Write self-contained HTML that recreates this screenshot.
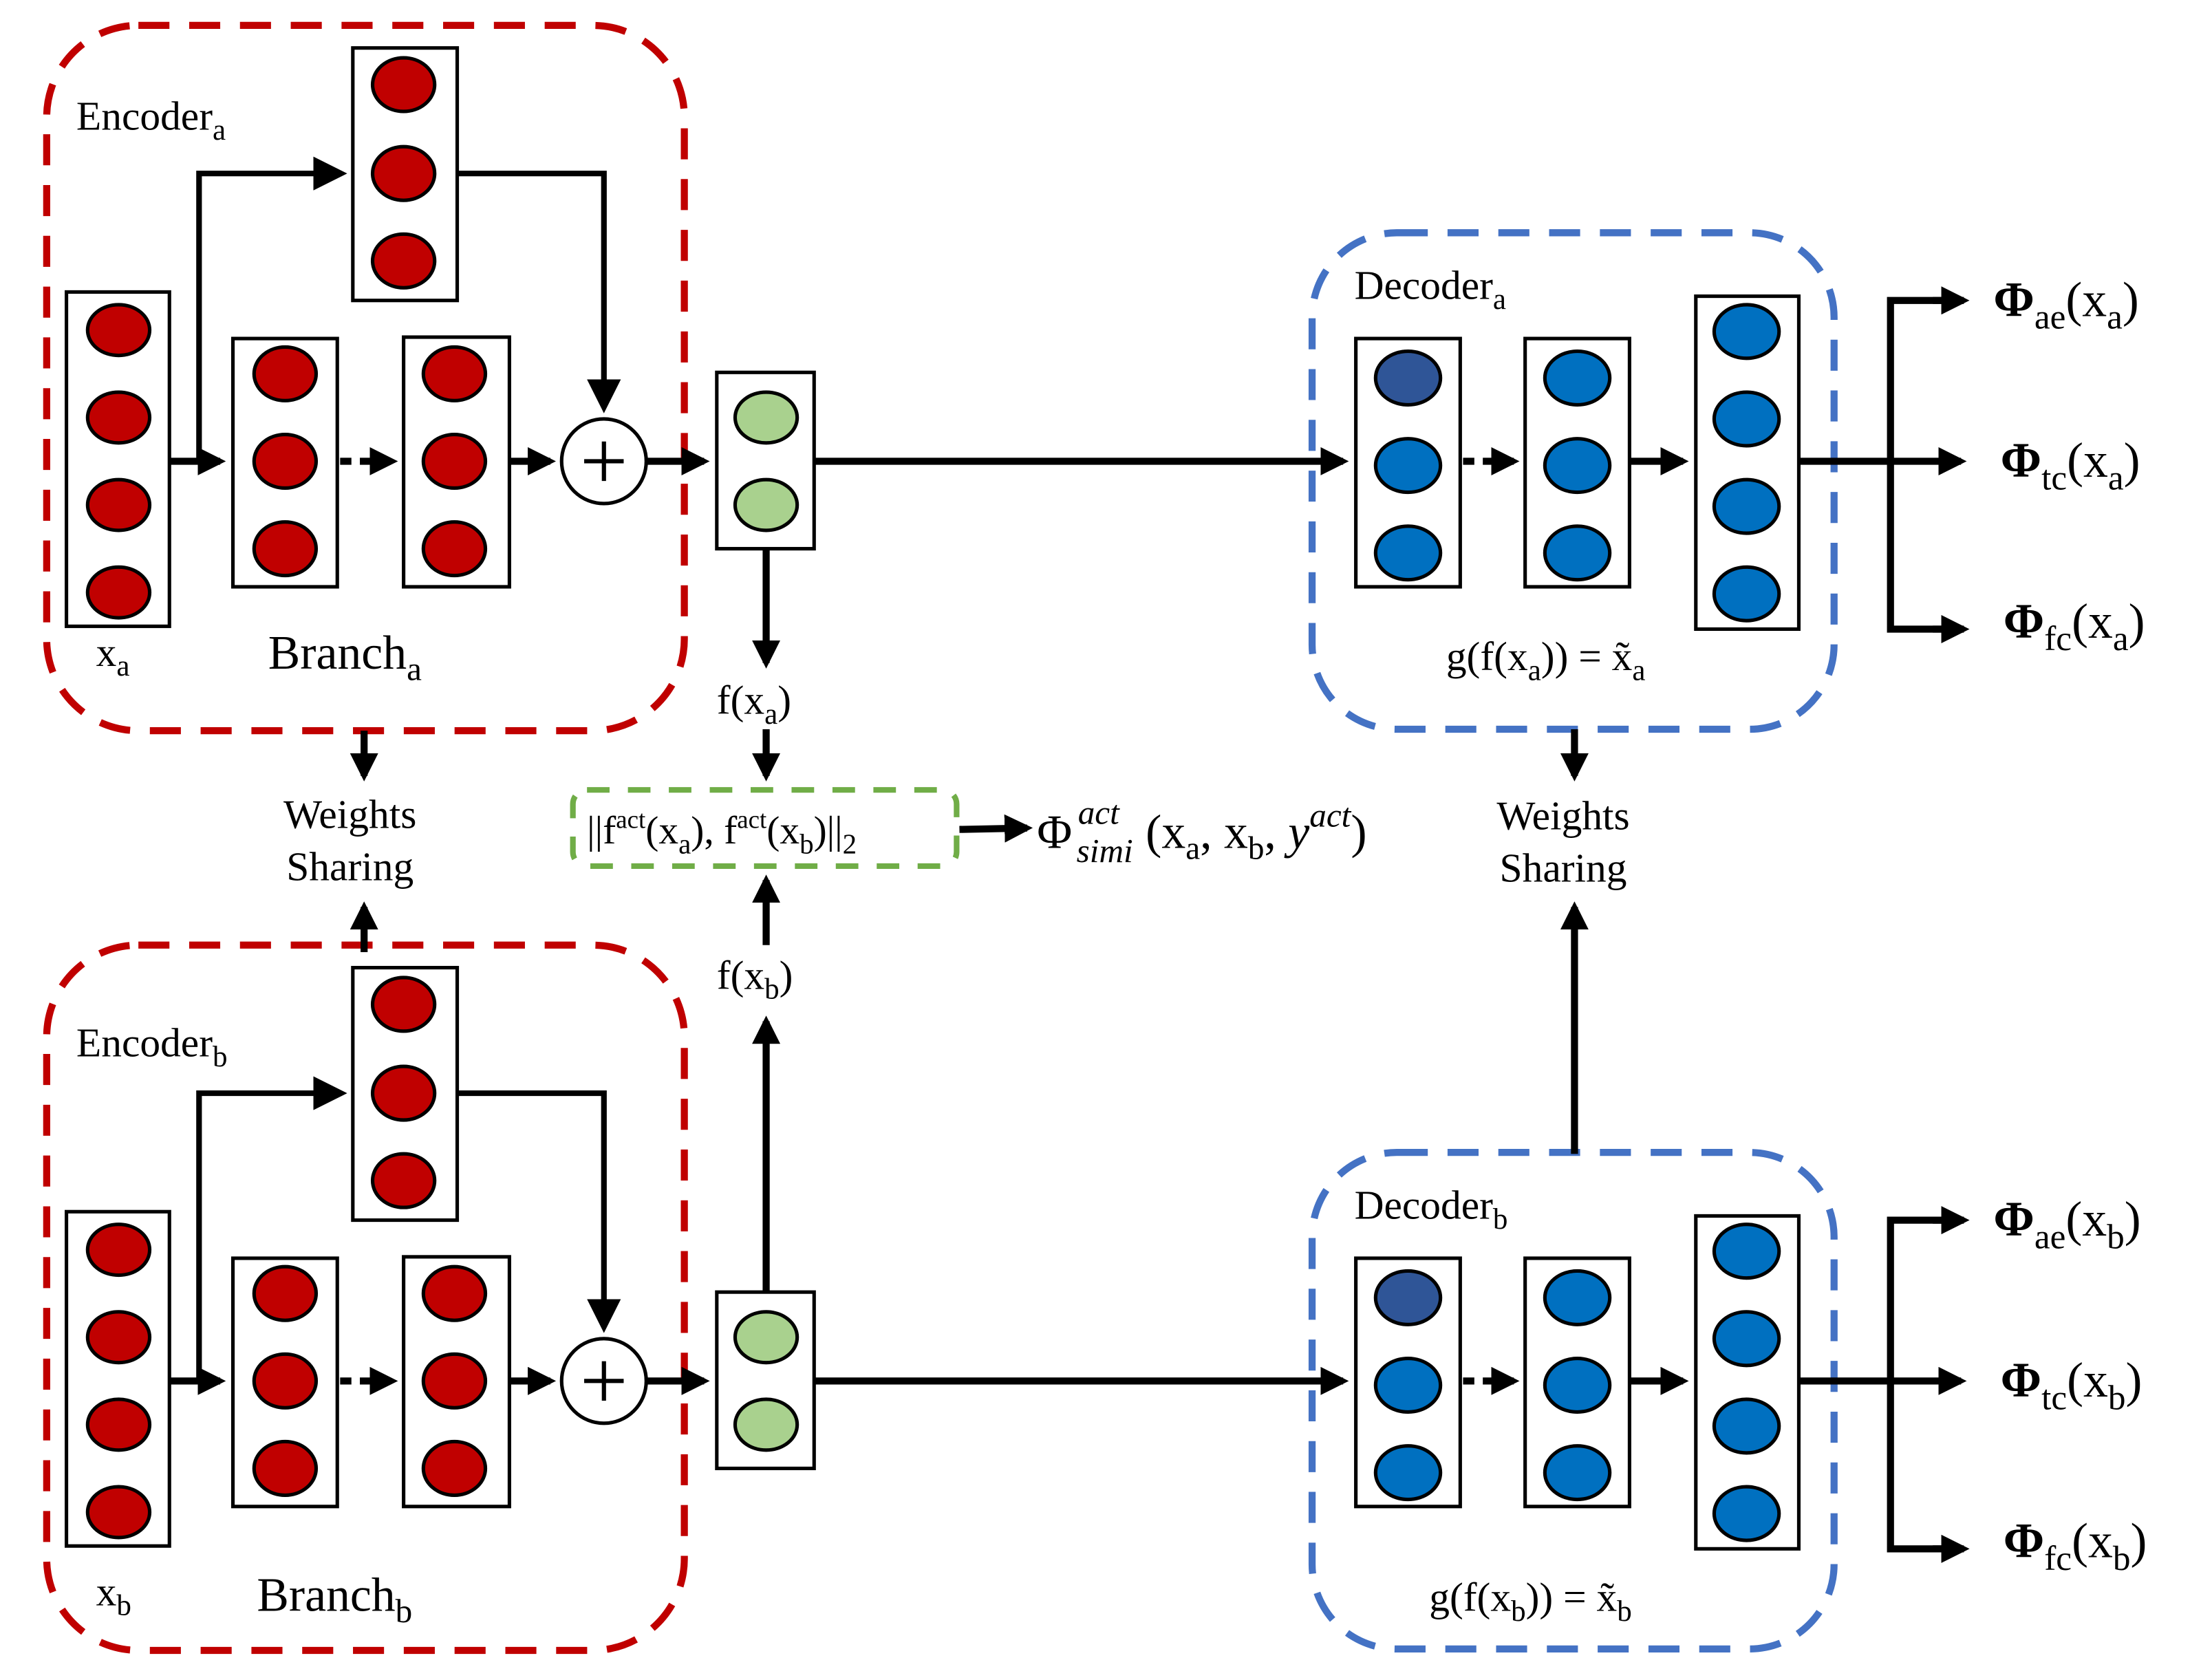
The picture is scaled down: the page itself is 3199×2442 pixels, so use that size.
<!DOCTYPE html>
<html><head><meta charset="utf-8"><style>
html,body{margin:0;padding:0;background:#fff;width:3199px;height:2442px;overflow:hidden}
svg{display:block}
text{font-family:"Liberation Serif",serif;fill:#000}
</style></head><body>
<svg width="3199" height="2442" viewBox="0 0 1560 1191" xmlns="http://www.w3.org/2000/svg">
<defs>
<marker id="ah" markerWidth="4" markerHeight="4" refX="3.2" refY="2" orient="auto" markerUnits="strokeWidth"><path d="M0,0 L4,2 L0,4 z" fill="#000"/></marker>
<marker id="ah2" markerWidth="6" markerHeight="6" refX="5" refY="3" orient="auto" markerUnits="strokeWidth"><path d="M0,0 L6,3 L0,6 z" fill="#000"/></marker>
<g id="enc">
  <rect x="33" y="18" width="452" height="500" rx="65" fill="none" stroke="#c00000" stroke-width="5" stroke-dasharray="22,14"/>
  <rect x="47" y="207" width="73" height="237" fill="#fff" stroke="#000" stroke-width="2.5"/>
  <g fill="#c00000" stroke="#000" stroke-width="2.5">
    <ellipse cx="84" cy="234" rx="22" ry="18"/><ellipse cx="84" cy="296" rx="22" ry="18"/><ellipse cx="84" cy="358" rx="22" ry="18"/><ellipse cx="84" cy="420" rx="22" ry="18"/>
  </g>
  <rect x="165" y="240" width="74" height="176" fill="#fff" stroke="#000" stroke-width="2.5"/>
  <rect x="286" y="239" width="75" height="177" fill="#fff" stroke="#000" stroke-width="2.5"/>
  <rect x="250" y="34" width="74" height="179" fill="#fff" stroke="#000" stroke-width="2.5"/>
  <g fill="#c00000" stroke="#000" stroke-width="2.5">
    <ellipse cx="202" cy="265" rx="22" ry="19"/><ellipse cx="202" cy="327" rx="22" ry="19"/><ellipse cx="202" cy="389" rx="22" ry="19"/>
    <ellipse cx="322" cy="265" rx="22" ry="19"/><ellipse cx="322" cy="327" rx="22" ry="19"/><ellipse cx="322" cy="389" rx="22" ry="19"/>
    <ellipse cx="286" cy="60" rx="22" ry="19"/><ellipse cx="286" cy="123" rx="22" ry="19"/><ellipse cx="286" cy="185" rx="22" ry="19"/>
  </g>
  <circle cx="428" cy="327" r="30" fill="#fff" stroke="#000" stroke-width="2.5"/>
  <path d="M414,327 H442 M428,313 V341" stroke="#000" stroke-width="3"/>
  <g stroke="#000" fill="none">
    <path d="M120,327 L156,327" stroke-width="5" marker-end="url(#ah)"/>
    <path d="M241,327 L278,327" stroke-width="5" stroke-dasharray="8,6" marker-end="url(#ah)"/>
    <path d="M361,327 L390,327" stroke-width="5" marker-end="url(#ah)"/>
    <path d="M459,327 L499,327" stroke-width="5" marker-end="url(#ah)"/>
    <path d="M141,327 V123 H242" stroke-width="4" marker-end="url(#ah2)"/>
    <path d="M324,123 H428 V289" stroke-width="4" marker-end="url(#ah2)"/>
  </g>
  <rect x="508" y="264" width="69" height="125" fill="#fff" stroke="#000" stroke-width="2.5"/>
  <g fill="#a9d18e" stroke="#000" stroke-width="2.5"><ellipse cx="543" cy="296" rx="22" ry="18"/><ellipse cx="543" cy="358" rx="22" ry="18"/></g>
</g>
<g id="dec">
  <rect x="930" y="165" width="370" height="352" rx="60" fill="none" stroke="#4472c4" stroke-width="5" stroke-dasharray="22,14"/>
  <rect x="961" y="240" width="74" height="176" fill="#fff" stroke="#000" stroke-width="2.5"/>
  <rect x="1081" y="240" width="74" height="176" fill="#fff" stroke="#000" stroke-width="2.5"/>
  <rect x="1202" y="210" width="73" height="236" fill="#fff" stroke="#000" stroke-width="2.5"/>
  <g fill="#0070c0" stroke="#000" stroke-width="2.5">
    <ellipse cx="998" cy="268" rx="23" ry="19" fill="#2f5597"/><ellipse cx="998" cy="330" rx="23" ry="19"/><ellipse cx="998" cy="392" rx="23" ry="19"/>
    <ellipse cx="1118" cy="268" rx="23" ry="19"/><ellipse cx="1118" cy="330" rx="23" ry="19"/><ellipse cx="1118" cy="392" rx="23" ry="19"/>
    <ellipse cx="1238" cy="235" rx="23" ry="19"/><ellipse cx="1238" cy="297" rx="23" ry="19"/><ellipse cx="1238" cy="359" rx="23" ry="19"/><ellipse cx="1238" cy="421" rx="23" ry="19"/>
  </g>
  <g stroke="#000" fill="none">
    <path d="M577,327 L952,327" stroke-width="5" marker-end="url(#ah)"/>
    <path d="M1037,327 L1073,327" stroke-width="5" stroke-dasharray="8,6" marker-end="url(#ah)"/>
    <path d="M1155,327 L1193,327" stroke-width="5" marker-end="url(#ah)"/>
    <path d="M1275,327 L1390,327" stroke-width="5" marker-end="url(#ah)"/>
    <path d="M1390,213 H1340 V446 H1390" stroke-width="5"/>
    <path d="M1370,213 L1392,213" stroke-width="5" marker-end="url(#ah)"/>
    <path d="M1370,446 L1392,446" stroke-width="5" marker-end="url(#ah)"/>
  </g>
</g>
</defs>
<use href="#enc"/>
<use href="#enc" transform="translate(0,652)"/>
<use href="#dec"/>
<use href="#dec" transform="translate(0,652)"/>

<g stroke="#000" fill="none" stroke-width="5">
  <path d="M543,389 L543,470" marker-end="url(#ah)"/>
  <path d="M543,517 L543,550" marker-end="url(#ah)"/>
  <path d="M543,916 L543,724" marker-end="url(#ah)"/>
  <path d="M543,670 L543,624" marker-end="url(#ah)"/>
  <path d="M680,588 L728,587" marker-end="url(#ah)"/>
  <path d="M258,518 L258,550" marker-end="url(#ah)"/>
  <path d="M258,675 L258,643" marker-end="url(#ah)"/>
  <path d="M1116,517 L1116,550" marker-end="url(#ah)"/>
  <path d="M1116,818 L1116,643" marker-end="url(#ah)"/>
</g>
<rect x="406" y="560" width="272" height="54" rx="10" fill="none" stroke="#70ad47" stroke-width="4" stroke-dasharray="16,13"/>

<g font-size="29">
<text x="54" y="92">Encoder<tspan font-size="21" dy="7">a</tspan></text>
<text x="54" y="749">Encoder<tspan font-size="21" dy="7">b</tspan></text>
<text x="68" y="472">x<tspan font-size="21" dy="7">a</tspan></text>
<text x="68" y="1138">x<tspan font-size="21" dy="7">b</tspan></text>
<text x="190" y="474" font-size="34">Branch<tspan font-size="24" dy="8">a</tspan></text>
<text x="182" y="1142" font-size="34">Branch<tspan font-size="24" dy="8">b</tspan></text>
<text x="508" y="506">f(x<tspan font-size="21" dy="7">a</tspan><tspan dy="-7">)</tspan></text>
<text x="508" y="701">f(x<tspan font-size="21" dy="7">b</tspan><tspan dy="-7">)</tspan></text>
<text x="248" y="587" text-anchor="middle">Weights</text>
<text x="248" y="624" text-anchor="middle">Sharing</text>
<text x="1108" y="588" text-anchor="middle">Weights</text>
<text x="1108" y="625" text-anchor="middle">Sharing</text>
<text x="416" y="598" font-size="28">||f<tspan font-size="18" dy="-11">act</tspan><tspan dy="11">(x</tspan><tspan font-size="20" dy="7">a</tspan><tspan dy="-7">), f</tspan><tspan font-size="18" dy="-11">act</tspan><tspan dy="11">(x</tspan><tspan font-size="20" dy="7">b</tspan><tspan dy="-7">)||</tspan><tspan font-size="20" dy="7">2</tspan></text>
<text x="735" y="601" font-size="34">Φ</text>
<text x="764" y="584" font-size="24" font-style="italic">act</text>
<text x="763" y="611" font-size="24" font-style="italic">simi</text>
<text x="812" y="601" font-size="34">(x<tspan font-size="23" dy="8">a</tspan><tspan dy="-8">, x</tspan><tspan font-size="23" dy="8">b</tspan><tspan dy="-8">, </tspan><tspan font-style="italic">y</tspan><tspan font-size="24" font-style="italic" dy="-15">act</tspan><tspan dy="15">)</tspan></text>
<text x="960" y="212">Decoder<tspan font-size="21" dy="7">a</tspan></text>
<text x="960" y="864">Decoder<tspan font-size="21" dy="7">b</tspan></text>
<text x="1025" y="475">g(f(x<tspan font-size="21" dy="7">a</tspan><tspan dy="-7">)) = x̃</tspan><tspan font-size="21" dy="7">a</tspan></text>
<text x="1013" y="1142">g(f(x<tspan font-size="21" dy="7">b</tspan><tspan dy="-7">)) = x̃</tspan><tspan font-size="21" dy="7">b</tspan></text>
</g>
<g font-size="35" font-weight="bold">
<text x="1413" y="224">Φ<tspan font-size="25" dy="9" font-weight="normal">ae</tspan><tspan dy="-9" font-weight="normal">(x</tspan><tspan font-size="25" dy="9" font-weight="normal">a</tspan><tspan dy="-9" font-weight="normal">)</tspan></text>
<text x="1418" y="338">Φ<tspan font-size="25" dy="9" font-weight="normal">tc</tspan><tspan dy="-9" font-weight="normal">(x</tspan><tspan font-size="25" dy="9" font-weight="normal">a</tspan><tspan dy="-9" font-weight="normal">)</tspan></text>
<text x="1420" y="452">Φ<tspan font-size="25" dy="9" font-weight="normal">fc</tspan><tspan dy="-9" font-weight="normal">(x</tspan><tspan font-size="25" dy="9" font-weight="normal">a</tspan><tspan dy="-9" font-weight="normal">)</tspan></text>
<text x="1413" y="876">Φ<tspan font-size="25" dy="9" font-weight="normal">ae</tspan><tspan dy="-9" font-weight="normal">(x</tspan><tspan font-size="25" dy="9" font-weight="normal">b</tspan><tspan dy="-9" font-weight="normal">)</tspan></text>
<text x="1418" y="990">Φ<tspan font-size="25" dy="9" font-weight="normal">tc</tspan><tspan dy="-9" font-weight="normal">(x</tspan><tspan font-size="25" dy="9" font-weight="normal">b</tspan><tspan dy="-9" font-weight="normal">)</tspan></text>
<text x="1420" y="1104">Φ<tspan font-size="25" dy="9" font-weight="normal">fc</tspan><tspan dy="-9" font-weight="normal">(x</tspan><tspan font-size="25" dy="9" font-weight="normal">b</tspan><tspan dy="-9" font-weight="normal">)</tspan></text>
</g>
</svg>
</body></html>
